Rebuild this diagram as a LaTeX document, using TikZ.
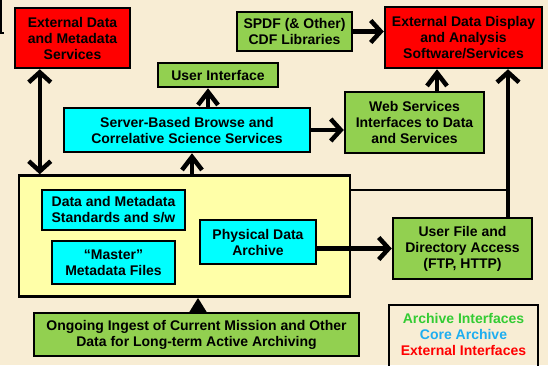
\documentclass[tikz,border=0pt]{standalone}
\usepackage{fontspec}
\setmainfont{Liberation Sans}
\usetikzlibrary{arrows.meta}
\definecolor{paper}{HTML}{F8EDD4}
\definecolor{extred}{HTML}{FF0000}
\definecolor{intgreen}{HTML}{92D050}
\definecolor{corecyan}{HTML}{00FFFF}
\definecolor{archyellow}{HTML}{FFFFA8}
\definecolor{keygreen}{HTML}{33CC33}
\definecolor{keycyan}{HTML}{1EAEF0}
\tikzstyle{box}=[draw, line width=2.5pt, inner sep=0, align=center, font=\bfseries\fontsize{14}{16}\selectfont]
\tikzstyle{extbox}=[box, fill=extred]
\tikzstyle{intbox}=[box, fill=intgreen]
\tikzstyle{corebox}=[box, fill=corecyan]
\tikzstyle{flow}=[line width=4.5pt, -{Straight Barb[length=10pt,width=22pt]}]
\tikzstyle{upflow}=[line width=4.5pt, -{Straight Barb[length=13pt,width=20pt]}]

\begin{document}
\begin{tikzpicture}[x=1pt,y=-1pt]
\fill[paper] (0,0) rectangle (548,365);
\useasboundingbox (0,0) rectangle (548,365);
\draw[line width=1.5pt] (0.75,0)--(0.75,33)--(4,33);
% archive box
\node at (184.5,236)[box, fill=archyellow, minimum width=331pt, minimum height=121pt](arch){};
\node at (113.5,210)[corebox, minimum width=143pt, minimum height=40pt](stds){Data and Metadata\\Standards and s/w};
\node at (113.5,262.5)[corebox, minimum width=123pt, minimum height=43pt](master){``Master''\\Metadata Files};
\node at (258,242)[corebox, minimum width=116pt, minimum height=44pt](phys){Physical Data\\Archive};
% services
\node at (72.5,38)[extbox, minimum width=115pt, minimum height=60pt](extsvc){External Data\\and Metadata\\Services};
\node at (294.5,31.5)[intbox, minimum width=115pt, minimum height=39pt](cdflib){SPDF (\& Other)\\CDF Libraries};
\node at (463.5,37.5)[extbox, minimum width=157pt, minimum height=61pt](extdisp){External Data Display\\and Analysis\\Software/Services};
\node at (218,75)[intbox, minimum width=120pt, minimum height=24pt](userif){User Interface};
\node at (187,130)[corebox, minimum width=246pt, minimum height=44pt](server){Server-Based Browse and\\Correlative Science Services};
\node at (414.5,122.5)[intbox, minimum width=139pt, minimum height=61pt](websvc){Web Services\\Interfaces to Data\\and Services};
\node at (462.5,248.5)[intbox, minimum width=139pt, minimum height=61pt](userfile){User File and\\Directory Access\\(FTP, HTTP)};
\node at (196.5,334.5)[intbox, minimum width=325pt, minimum height=43pt](ingest){Ongoing Ingest of Current Mission and Other\\Data for Long-term Active Archiving};
% legend
\node at (463.5,334)[align=center, font=\bfseries\fontsize{14}{16}\selectfont](key){\textcolor{keygreen}{Archive Interfaces}\\\textcolor{keycyan}{Core Archive}\\\textcolor{extred}{External Interfaces}};
\draw[line width=2.5pt] (389,375) |- (538,305) -- (538,375);
% connectors
\draw[line width=4.5pt, {Straight Barb[length=10pt,width=22pt]}-{Straight Barb[length=10pt,width=22pt]}] ([xshift=26pt]extsvc.south west) -- ([xshift=26pt]extsvc.south west |- arch.north);
\draw[upflow] ([xshift=7.5pt]arch.north) -- ([xshift=7.5pt]arch.north |- server.south);
\draw[upflow] ([xshift=-10pt]userif.south |- server.north) -- ([xshift=-10pt]userif.south);
\draw[flow] (server.east) -- (server.east -| websvc.west);
\draw[flow] (cdflib.east) -- (cdflib.east -| extdisp.west);
\draw[upflow] ([xshift=22.5pt]websvc.north) -- ([xshift=22.5pt]websvc.north |- extdisp.south);
\draw[flow] ([xshift=45.5pt]userfile.north) -- ([xshift=45.5pt]userfile.north |- extdisp.south);
\draw[flow] (userfile.west -| phys.east) -- (userfile.west);
\draw[line width=4pt, -{Triangle[length=14pt,width=16pt]}] ([xshift=1.5pt]ingest.north) -- ([xshift=1.5pt]ingest.north |- arch.south);
\coordinate (tap) at (508,190);
\draw[line width=2pt] (arch.east |- tap) -- (tap);
\end{tikzpicture}
\end{document}
